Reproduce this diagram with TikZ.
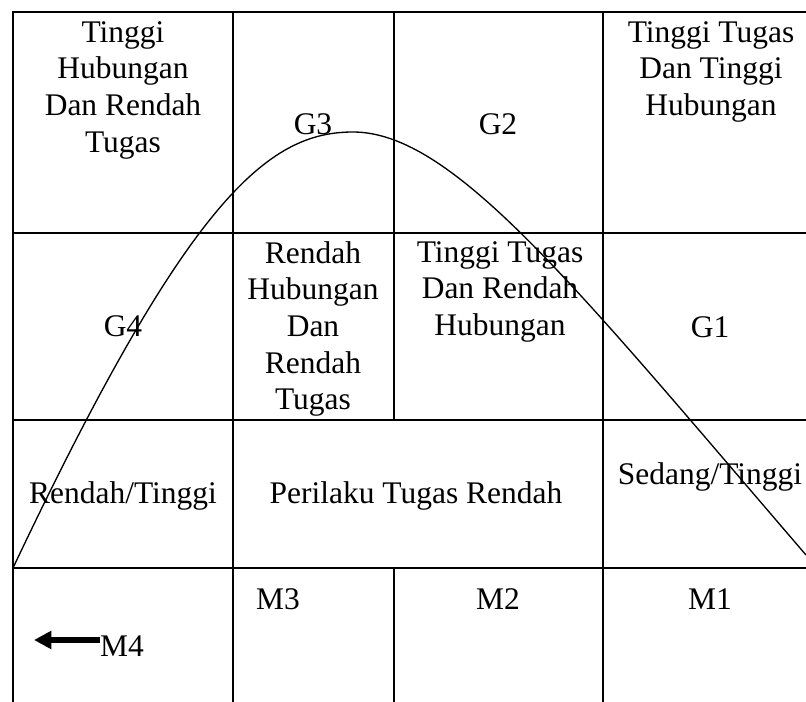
\documentclass[tikz,border=0pt]{standalone}
\usepackage{fontspec}
\setmainfont{Liberation Serif}
\usetikzlibrary{arrows.meta,positioning}

\begin{document}
\begin{tikzpicture}[x=0.75pt,y=-0.75pt,
      font=\fontsize{23.6}{27.5}\selectfont,
      grid/.style={line width=1.5pt},
      cell/.style={align=center,inner sep=0pt},
      topcell/.style={cell,anchor=north}]
    \useasboundingbox (0,0) rectangle (806,702);
    % grid
    \draw[grid] (13,702) -- (13,12) -- (806,12);
    \draw[grid] (13,233) -- (806,233);
    \draw[grid] (13,420) -- (806,420);
    \draw[grid] (13,568) -- (806,568);
    \draw[grid] (233,12) -- (233,702);
    \draw[grid] (394,12) -- (394,420);
    \draw[grid] (394,568) -- (394,702);
    \draw[grid] (603,12) -- (603,702);
    % row 1
    \node[topcell] (thrt) at (123,21) {Tinggi\\Hubungan\\Dan Rendah\\Tugas};
    \node[cell]    (g3)   at (313,124) {G3};
    \node[cell]    (g2)   at (498,124) {G2};
    \node[topcell] (tttt) at (711,21) {Tinggi Tugas\\Dan Tinggi\\Hubungan};
    % row 2
    \node[cell]    (g4)   at (123,326) {G4};
    \node[topcell] (rhrt) at (313,241) {Rendah\\Hubungan\\Dan\\Rendah\\Tugas};
    \node[topcell] (ttrh) at (500,241) {Tinggi Tugas\\Dan Rendah\\Hubungan};
    \node[cell]    (g1)   at (710,327) {G1};
    % row 3
    \node[cell]    (rt)   at (123,496) {Rendah/Tinggi};
    \node[cell]    (ptr)  at (416,496) {Perilaku Tugas Rendah};
    \node[cell]    (st)   at (710,477) {Sedang/Tinggi};
    % row 4
    \node[cell]    (m3)   at (278,599) {M3};
    \node[cell]    (m2)   at (498,599) {M2};
    \node[cell]    (m1)   at (710,599) {M1};
    \node[cell]    (m4)   at (122,646) {M4};
    \coordinate (m4tip) at (34,640);
    \draw[line width=4.5pt,-{Triangle[length=13pt,width=13pt]}] (m4.west |- m4tip) -- (m4tip);
    % curve
    \coordinate (cstart) at (13,568);
    \coordinate (cpeak)  at (353,132);
    \coordinate (cend)   at (806,555);
    \draw[line width=1pt] (cstart) .. controls (188,198) and (268,132) .. (cpeak)
                                   .. controls (453,132) and (574,285) .. (cend);
  \end{tikzpicture}
\end{document}
